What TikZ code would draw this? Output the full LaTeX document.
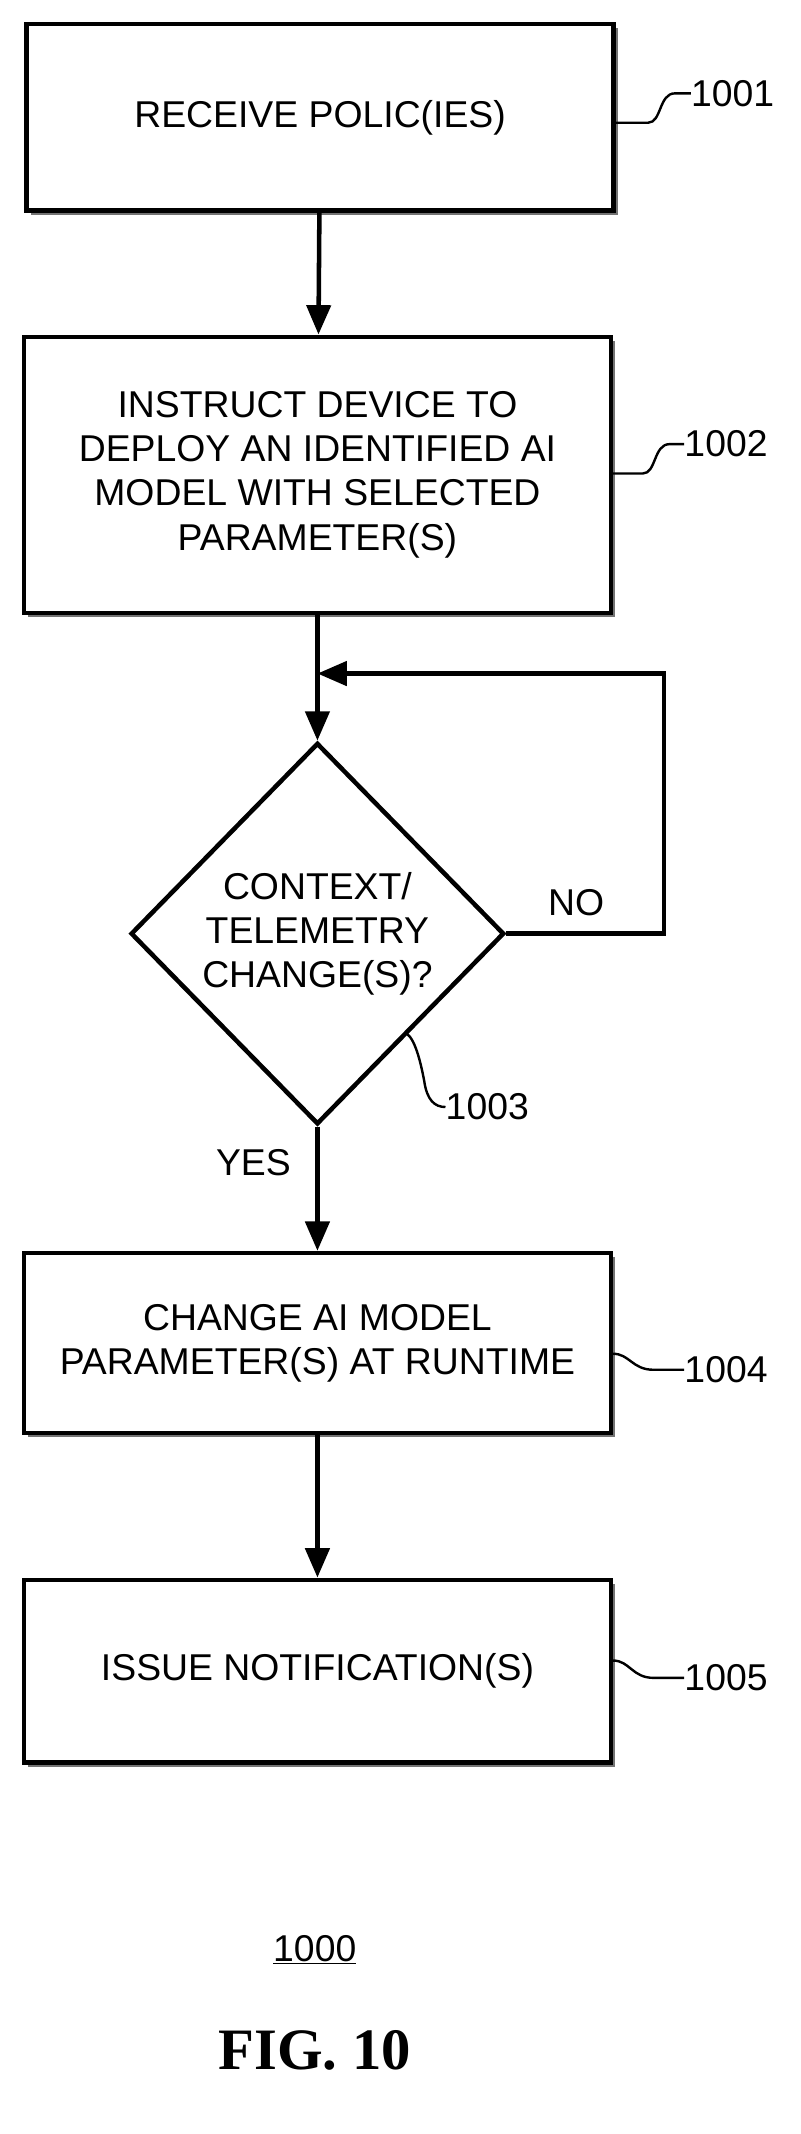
\documentclass[tikz,border=0pt]{standalone}
\usepackage{fontspec}
\setmainfont{Liberation Sans}
\newfontfamily\figfont{Liberation Serif}
\usetikzlibrary{shapes.geometric,arrows.meta,positioning,shadows}

\tikzset{
  stage/.style={draw,fill=white,line width=3.4pt,minimum width=440pt,align=center,
    font=\fontsize{28}{33}\selectfont,
    general shadow={fill=black!55,shadow xshift=3pt,shadow yshift=-3pt}},
  test/.style={draw,diamond,line width=3.4pt,minimum width=280pt,minimum height=286pt,inner sep=0pt,
    align=center,font=\fontsize{28}{33}\selectfont},
  flow/.style={line width=3.4pt,-{Triangle[length=22pt,width=18pt]}},
  tag/.style={font=\fontsize{28}{33}\selectfont,inner sep=0pt},
  squig/.style={line width=1.8pt}
}

\begin{document}
\begin{tikzpicture}[x=1pt,y=-1pt]
\useasboundingbox (0,0) rectangle (600,1600);

% boxes
\node[stage,minimum height=140pt] (recv) at (240,88) {RECEIVE POLIC(IES)};
\node[stage,minimum height=207pt] (inst) at (238,356) {INSTRUCT DEVICE TO\\DEPLOY AN IDENTIFIED AI\\MODEL WITH SELECTED\\PARAMETER(S)};
\node[test] (ctx) at (238,700) {CONTEXT/\\TELEMETRY\\CHANGE(S)?};
\node[stage,minimum height=135pt] (chg) at (238,1007) {CHANGE AI MODEL\\PARAMETER(S) AT RUNTIME};
\node[stage,minimum height=137pt] (note) at (238,1253) {ISSUE NOTIFICATION(S)};

% connectors
\draw[flow] (recv) -- (inst);
\coordinate (loop) at (238,505);
\draw[flow] (inst) -- (ctx.north);
\draw[flow] (ctx.east) -| (498,505) -- (loop);
\draw[flow] (ctx) -- (chg);
\draw[flow] (chg) -- (note);

% labels
\node[tag] (no) at (432,677) {NO};
\node[tag] (yes) at (190,872) {YES};

% reference numerals
\node[tag,anchor=west] (n1) at (518,70) {1001};
\draw[squig] (recv.east |- 0,92) -- (486,92) .. controls (496,92) and (494,70) .. (506,70) -- (n1.west);
\node[tag,anchor=west] (n2) at (513,333) {1002};
\draw[squig] (inst.east |- 0,355) -- (482,355) .. controls (492,355) and (490,333) .. (502,333) -- (n2.west);
\node[tag,anchor=west] (n3) at (334,830) {1003};
\draw[squig] (305,775) .. controls (312,780) and (316,800) .. (318,810) .. controls (320,825) and (326,830) .. (n3.west);
\node[tag,anchor=west] (n4) at (513,1027) {1004};
\draw[squig] (chg.east |- 0,1015) .. controls (472,1015) and (474,1027) .. (490,1027) -- (n4.west);
\node[tag,anchor=west] (n5) at (513,1258) {1005};
\draw[squig] (note.east |- 0,1245) .. controls (472,1245) and (474,1258) .. (490,1258) -- (n5.west);

% figure number
\node[tag] (num) at (236,1462) {\underline{1000}};
\node[font=\figfont\bfseries\fontsize{44}{50}\selectfont] (fig) at (236,1537) {FIG. 10};
\end{tikzpicture}
\end{document}
